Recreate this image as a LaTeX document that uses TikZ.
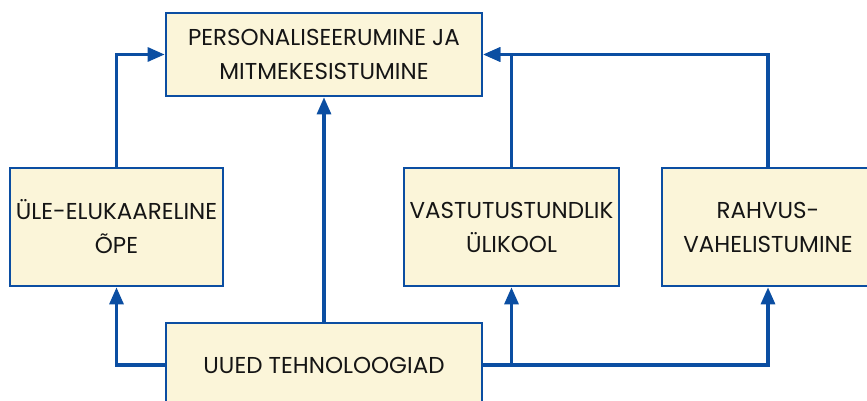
\documentclass[tikz,border=0pt]{standalone}
\usepackage{fontspec}
\setmainfont{Poppins}
\usetikzlibrary{arrows.meta}
\definecolor{bblue}{HTML}{0B4EA2}
\definecolor{cream}{HTML}{FBF5D9}
\definecolor{txt}{HTML}{151515}
\begin{document}
\begin{tikzpicture}[x=1pt,y=-1pt,
  box/.style={draw=bblue,fill=cream,line width=2.7pt,inner sep=0pt,align=center,
    text=txt,font=\fontsize{23}{34}\selectfont,minimum height=#1},
  box/.default=118pt,
  arr/.style={draw=bblue,line width=3.1pt,-{Triangle[length=17pt,width=14pt]}}]
\useasboundingbox (0,0) rectangle (867,401);
\clip (0,0) rectangle (867,401);
\node[box=83pt,minimum width=316pt] (top) at (324,54.5) {PERSONALISEERUMINE JA\\MITMEKESISTUMINE};
\node[box,minimum width=213pt] (left) at (116.5,227) {ÜLE-ELUKAARELINE\\ÕPE};
\node[box,minimum width=215pt] (mid) at (511.5,227) {VASTUTUSTUNDLIK\\ÜLIKOOL};
\node[box,minimum width=212pt] (rah) at (768,227) {RAHVUS-\\VAHELISTUMINE};
\node[box=84pt,minimum width=316pt] (bot) at (324,365) {UUED TEHNOLOOGIAD};
\coordinate (j1) at (bot.east -| mid.south);
\draw[arr] (bot.west) -| (left.south);
\draw[arr] (left.north) |- (top.west);
\draw[arr] (bot.north) -- (top.south);
\draw[arr] (bot.east) -| (rah.south);
\draw[arr] (j1) -- (mid.south);
\draw[arr] (mid.north) |- (top.east);
\draw[arr] (rah.north) |- (top.east);
\end{tikzpicture}
\end{document}
